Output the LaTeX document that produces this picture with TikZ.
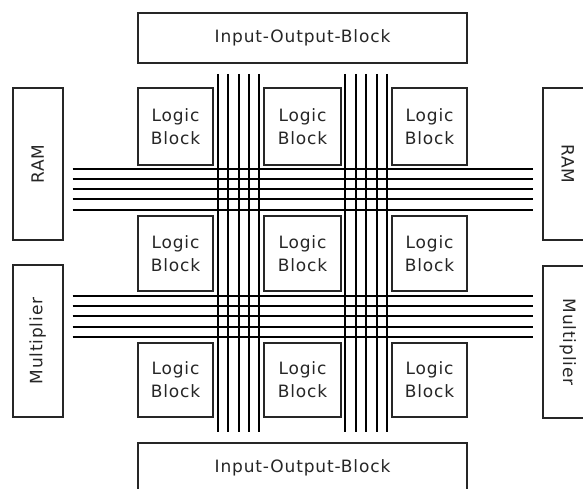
\documentclass[tikz,border=0pt]{standalone}
\usepackage{fontspec}
\setmainfont{DejaVu Sans}[LetterSpace=5]
\begin{document}
\begin{tikzpicture}[x=1pt,y=-1pt,
  blk/.style={draw=black!85,line width=1.6pt,fill=white,inner sep=0pt,font=\fontsize{17}{23}\selectfont,text=black!85},
  bus/.style={draw=black,line width=1.9pt}]
\useasboundingbox (0,0) rectangle (583,489);
\clip (0,0) rectangle (583,489);
% routing channels
\foreach \y in {169,179,189,199,210}
  \draw[bus] (72.7,\y) coordinate (hl) -- (532.7,\y) coordinate (hr);
\foreach \y in {296,306,316,327,337}
  \draw[bus] (72.7,\y) coordinate (ml) -- (532.7,\y) coordinate (mr);
\foreach \x in {218,228,239,249,259,345,356,366,377,387}
  \draw[bus] (\x,74) coordinate (vt) -- (\x,432) coordinate (vb);
% logic blocks
\foreach \c/\xa/\xb in {1/138/213,2/264/341,3/392/467}
  \foreach \r/\ya/\yb in {1/88/165,2/216/291,3/343/417}
    \node[blk,minimum width={\xb-\xa},minimum height={\yb-\ya},align=center] (lb\r\c) at ({(\xa+\xb)/2},{(\ya+\yb)/2}) {Logic\\Block};
% I/O blocks
\node[blk,minimum width=329,minimum height=50] (iot) at (302.5,38) {Input-Output-Block};
\node[blk,minimum width=329,minimum height=50] (iob) at (302.5,468) {Input-Output-Block};
% side blocks
\node[blk,minimum width=152,minimum height=50,rotate=90] (raml) at (37.7,164) {RAM};
\node[blk,minimum width=152,minimum height=50,rotate=90] (mull) at (37.7,341) {Multiplier};
\node[blk,minimum width=152,minimum height=50,rotate=-90] (ramr) at (567.7,164) {RAM};
\node[blk,minimum width=152,minimum height=50,rotate=-90] (mulr) at (567.7,342) {Multiplier};
\end{tikzpicture}
\end{document}
